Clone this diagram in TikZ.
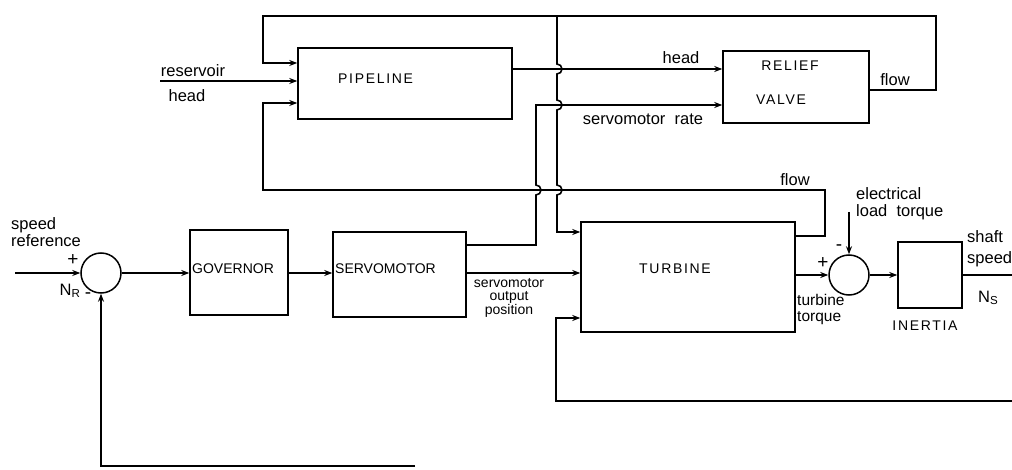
\documentclass[tikz,border=0pt]{standalone}
\usepackage{fontspec}
\setmainfont{Liberation Sans}
\newfontfamily\boxfont{Liberation Sans}
\newfontfamily\boxwidefont[LetterSpace=12]{Liberation Sans}
\usetikzlibrary{positioning,calc,arrows.meta}

\tikzset{
  block/.style={draw, line width=1.5pt, inner sep=0pt},
  summer/.style={draw, circle, line width=1.5pt, minimum size=40pt, inner sep=0pt},
  boxlbl/.style={font=\boxfont\fontsize{14}{16}\selectfont, inner sep=0pt},
  boxwide/.style={font=\boxwidefont\fontsize{14}{16}\selectfont, inner sep=0pt},
  lbl/.style={font=\fontsize{16.5}{17}\selectfont, inner sep=0pt},
  sign/.style={font=\fontsize{19}{19}\selectfont, inner sep=0pt},
  conn/.style={line width=1.6pt},
}

\begin{document}
\begin{tikzpicture}[x=1pt, y=-1pt, >={Stealth[length=8pt,width=6pt]}]
\useasboundingbox (0,0) rectangle (1012,470);

% blocks
\node[block, minimum width=214pt, minimum height=71pt] (pipeline) at (405,83.5) {};
\node[block, minimum width=146pt, minimum height=72pt] (relief) at (796,87) {};
\node[block, minimum width=98pt, minimum height=85pt] (governor) at (239,272.5) {};
\node[block, minimum width=133pt, minimum height=85pt] (servo) at (399.5,274.5) {};
\node[block, minimum width=214pt, minimum height=110pt] (turbine) at (688,277) {};
\node[block, minimum width=64pt, minimum height=66pt] (inertia) at (930,275) {};
\node[summer] (sumref) at (101,273) {};
\node[summer] (sumtorque) at (849,275) {};

% block texts
\node[boxwide, anchor=west] (pipelinetxt) at (338,79) {PIPELINE};
\node[boxwide] (relieftxt) at (790,66) {RELIEF};
\node[boxwide] (valvetxt) at (781,100) {VALVE};
\node[boxlbl, anchor=west] (governortxt) at (192,269) {GOVERNOR};
\node[boxlbl, anchor=west] (servotxt) at (335,269) {SERVOMOTOR};
\node[boxwide] (turbinetxt) at (675,269) {TURBINE};
\node[boxwide] (inertiatxt) at (925,326) {INERTIA};

% free ends
\coordinate (reservoir) at (160,81);
\coordinate (speedref) at (15,273);
\coordinate (loadtorque) at (849,212);
\coordinate (shaftout) at (1012,275);
\coordinate (speedfb) at (1012,401);
\coordinate (reffb) at (415,466);

% hydraulic loop
\draw[conn,->] (reservoir) -- (reservoir -| pipeline.west);
\draw[conn,->] (pipeline.east |- 0,69) -- (relief.west |- 0,69);
\draw[conn,->] (relief.east |- 0,90) -- (936,90) -- (936,16) -- (263,16) -- (263,63) -- (pipeline.west |- 0,63);
\draw[conn,->] (557,16) -- (557,64) arc[start angle=-90, end angle=90, radius=5]
  -- (557,100) arc[start angle=-90, end angle=90, radius=5]
  -- (557,185) arc[start angle=-90, end angle=90, radius=5]
  -- (557,232) -- (turbine.west |- 0,232);
\draw[conn,->] (servo.east |- 0,245) -- (536,245) -- (536,195) arc[start angle=90, end angle=-90, radius=5]
  -- (536,105) -- (relief.west |- 0,105);
\draw[conn,->] (turbine.east |- 0,236) -- (825,236) -- (825,190) -- (263,190) -- (263,103) -- (pipeline.west |- 0,103);

% speed loop
\draw[conn,->] (speedref) -- (sumref.west);
\draw[conn,->] (sumref.east) -- (governor.west |- sumref.east);
\draw[conn,->] (governor.east |- sumref.east) -- (servo.west |- sumref.east);
\draw[conn,->] (servo.east |- 0,273) -- (turbine.west |- 0,273);
\draw[conn,->] (turbine.east |- sumtorque.west) -- (sumtorque.west);
\draw[conn,->] (loadtorque) -- (sumtorque.north);
\draw[conn,->] (sumtorque.east) -- (inertia.west |- sumtorque.east);
\draw[conn] (inertia.east |- sumtorque.east) -- (shaftout);
\draw[conn,->] (speedfb) -- (556,401) -- (556,318) -- (turbine.west |- 0,318);
\draw[conn,->] (reffb) -- (101,466) -- (sumref.south);

% labels
\node[lbl] (reservoirlbl) at (193,71) {reservoir};
\node[lbl] (headinlbl) at (187,96) {head};
\node[lbl] (headlbl) at (681,58) {head};
\node[lbl] (ratelbl) at (643,119) {servomotor\ \ rate};
\node[lbl] (flowrvlbl) at (895,80) {flow};
\node[lbl] (flowtblbl) at (795,180) {flow};
\node[lbl, anchor=west, align=left] (loadlbl) at (856,204) {electrical\\load\ \ torque};
\node[lbl, anchor=west, align=left] (shaftlbl) at (967,249) {shaft\\[4pt]speed};
\node[lbl, anchor=west] (nslbl) at (978,298) {N\textsubscript{S}};
\node[lbl] (nrlbl) at (70,291) {N\textsubscript{R}};
\node[lbl, anchor=west, align=left] (speedlbl) at (11,232) {speed\\reference};
\node[lbl, anchor=north, align=center, font=\fontsize{14}{13}\selectfont] (servooutlbl) at (509,278) {servomotor\\output\\position};
\node[lbl, anchor=west, align=left, font=\fontsize{15.5}{16}\selectfont] (torquelbl) at (797,309) {turbine\\torque};
\node[sign] (plusref) at (73,260) {+};
\node[sign] (minusref) at (88,296) {-};
\node[sign] (plustorque) at (823,263) {+};
\node[sign] (minustorque) at (839,248) {-};
\end{tikzpicture}
\end{document}
